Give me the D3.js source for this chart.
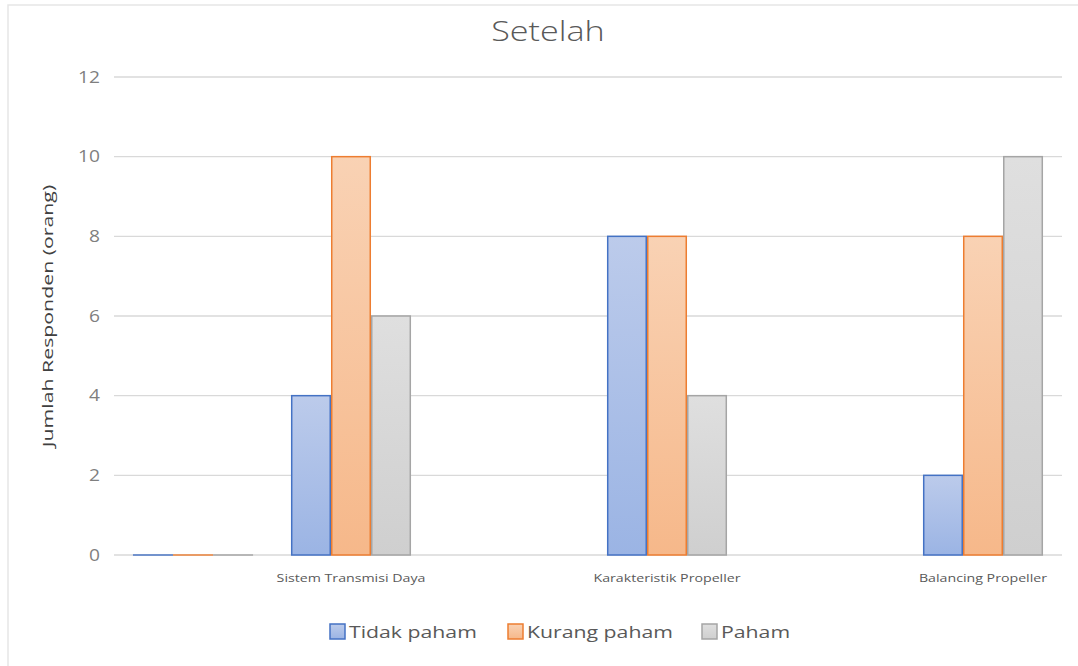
<!DOCTYPE html>
<html>
<head>
<meta charset="utf-8">
<script src="https://cdn.jsdelivr.net/npm/d3@7"></script>
<style>
  body { margin: 0; background: #fff; }
  text { font-family: "Open Sans", "Liberation Sans", sans-serif; }
</style>
</head>
<body>
<div id="chart"></div>
<script>
// data
var categories = ["", "Sistem Transmisi Daya", "", "Karakteristik Propeller", "", "Balancing Propeller"];
var seriesNames = ["Tidak paham", "Kurang paham", "Paham"];
var tidakPaham  = [0, 4, null, 8, null, 2];
var kurangPaham = [0, 10, null, 8, null, 8];
var paham       = [0, 6, null, 4, null, 10];
var yTicks = [0, 2, 4, 6, 8, 10, 12];

var colors = [
  {stroke: "#4472c4", top: "#bccbeb", bottom: "#9bb4e4"},
  {stroke: "#ed7d31", top: "#f9d2b4", bottom: "#f6b88a"},
  {stroke: "#a5a5a5", top: "#dfdfdf", bottom: "#cfcfcf"}
];

var W = 1078, H = 666;
var margin = {top: 77, right: 16, bottom: 111, left: 114};
var width = W - margin.left - margin.right,
    height = H - margin.top - margin.bottom;

// the source picture is a bit stretched sideways, so text gets a horizontal scale
function place(x, y, sx) {
  return "translate(" + x + "," + y + ") scale(" + sx + ",1)";
}

var svg = d3.select("#chart").append("svg")
    .attr("width", W)
    .attr("height", H);

// chart frame
svg.append("rect")
    .attr("x", 8).attr("y", 5)
    .attr("width", W).attr("height", H)
    .attr("fill", "none")
    .attr("stroke", "#e6e6e6")
    .attr("stroke-width", 1.5);

var defs = svg.append("defs");
colors.forEach(function(c, i) {
  var g = defs.append("linearGradient")
      .attr("id", "grad" + i)
      .attr("x1", 0).attr("y1", 0).attr("x2", 0).attr("y2", 1);
  g.append("stop").attr("offset", "0%").attr("stop-color", c.top);
  g.append("stop").attr("offset", "100%").attr("stop-color", c.bottom);
});

var g = svg.append("g")
    .attr("transform", "translate(" + margin.left + "," + margin.top + ")");

var x0 = d3.scaleBand()
    .domain(d3.range(categories.length))
    .range([0, width]);

var x1 = d3.scaleBand()
    .domain(d3.range(seriesNames.length))
    .range([0, x0.bandwidth() * 0.76])
    .padding(0);

var y = d3.scaleLinear()
    .domain([0, 12])
    .range([height, 0]);

// gridlines
g.append("g")
  .selectAll("line")
  .data(yTicks)
  .enter().append("line")
    .attr("x1", 0).attr("x2", width)
    .attr("y1", function(d) { return y(d); })
    .attr("y2", function(d) { return y(d); })
    .attr("stroke", "#d9d9d9")
    .attr("stroke-width", 1.3);

// y tick labels
g.append("g")
  .selectAll("text")
  .data(yTicks)
  .enter().append("text")
    .attr("transform", function(d) { return place(-14, y(d), 1.2); })
    .attr("dy", "0.35em")
    .attr("text-anchor", "end")
    .style("font-size", "16px")
    .style("fill", "#7f7f7f")
    .text(function(d) { return d; });

// y axis title
svg.append("text")
    .attr("transform", "translate(48," + (margin.top + height / 2) + ") rotate(-90) scale(1.42,1)")
    .attr("text-anchor", "middle")
    .attr("dy", "0.35em")
    .style("font-size", "15px")
    .style("fill", "#404040")
    .text("Jumlah Responden (orang)");

// title
svg.append("text")
    .attr("transform", place(548, 41, 1.22))
    .attr("text-anchor", "middle")
    .style("font-size", "28px")
    .style("font-weight", 300)
    .style("fill", "#595959")
    .text("Setelah");

// bars
var series = [tidakPaham, kurangPaham, paham];
var groupOffset = (x0.bandwidth() - x1.range()[1]) / 2;

series.forEach(function(vals, si) {
  var c = colors[si];
  var bars = g.append("g").selectAll("rect")
    .data(vals.map(function(v, i) { return {i: i, v: v}; })
              .filter(function(d) { return d.v !== null; }))
    .enter();

  bars.append("rect")
      .attr("x", function(d) { return x0(d.i) + groupOffset + x1(si) + 0.75; })
      .attr("y", function(d) { return y(d.v); })
      .attr("width", x1.bandwidth() - 1.5)
      .attr("height", function(d) { return height - y(d.v); })
      .attr("fill", "url(#grad" + si + ")")
      .attr("stroke", c.stroke)
      .attr("stroke-width", 1.5);

  // zero-value bars drawn as a flat line
  bars.filter(function(d) { return d.v === 0; })
    .append("line")
      .attr("x1", function(d) { return x0(d.i) + groupOffset + x1(si); })
      .attr("x2", function(d) { return x0(d.i) + groupOffset + x1(si) + x1.bandwidth(); })
      .attr("y1", height).attr("y2", height)
      .attr("stroke", c.stroke)
      .attr("stroke-opacity", 0.7)
      .attr("stroke-width", 2);
});

// x labels
g.append("g")
  .selectAll("text")
  .data(categories)
  .enter().append("text")
    .attr("transform", function(d, i) { return place(x0(i) + x0.bandwidth() / 2, height + 27, 1.42); })
    .attr("text-anchor", "middle")
    .style("font-size", "10px")
    .style("fill", "#595959")
    .text(function(d) { return d; });

// legend
var legendX = [330, 508, 702];
var legend = svg.append("g").selectAll("g")
    .data(seriesNames)
    .enter().append("g")
    .attr("transform", function(d, i) { return "translate(" + legendX[i] + ",624)"; });

legend.append("rect")
    .attr("width", 15).attr("height", 15)
    .attr("fill", function(d, i) { return "url(#grad" + i + ")"; })
    .attr("stroke", function(d, i) { return colors[i].stroke; })
    .attr("stroke-width", 1.5);

legend.append("text")
    .attr("transform", place(19, 8, 1.25))
    .attr("dy", "0.35em")
    .style("font-size", "17px")
    .style("fill", "#595959")
    .text(function(d) { return d; });
</script>
</body>
</html>
